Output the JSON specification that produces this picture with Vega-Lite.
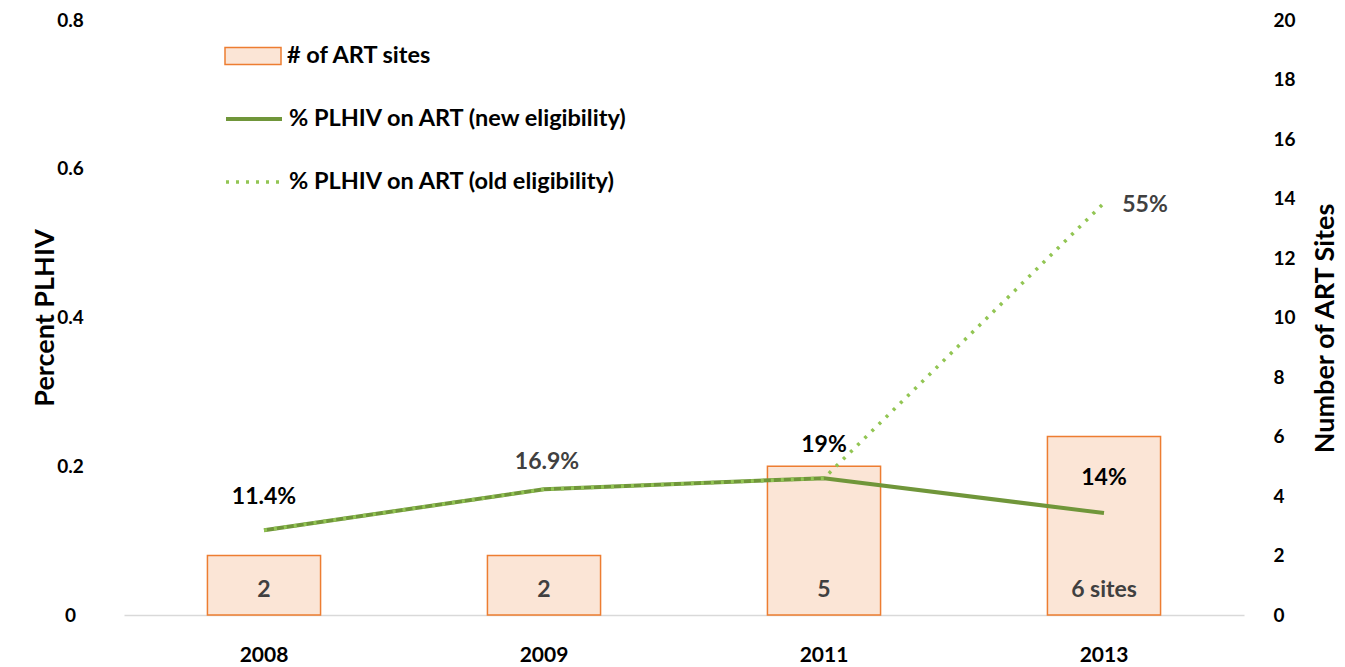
{
  "$schema": "https://vega.github.io/schema/vega-lite/v6.json",
  "autosize": {"type": "none"},
  "padding": {"left": 124, "top": 20, "right": 101, "bottom": 52},
  "width": 1120,
  "height": 595,
  "background": "white",
  "config": {
    "font": "Lato",
    "view": {"stroke": null},
    "axis": {"labelFont": "Lato", "titleFont": "Lato", "labelFontWeight": "bold", "titleFontWeight": "bold", "labelColor": "#000000", "titleColor": "#000000", "grid": false, "ticks": false, "labelOverlap": false},
    "legend": {"title": null, "orient": "none", "legendX": 100, "direction": "vertical", "symbolSize": 3136, "labelFont": "Lato", "labelFontSize": 23.5, "labelFontWeight": "bold", "labelColor": "#000000", "labelLimit": 600, "labelOffset": 5, "symbolOpacity": 1}
  },
  "datasets": {
    "sites": [
      {"year": "2008", "sites": 2, "label": "2", "series": "# of ART sites"},
      {"year": "2009", "sites": 2, "label": "2", "series": "# of ART sites"},
      {"year": "2011", "sites": 5, "label": "5", "series": "# of ART sites"},
      {"year": "2013", "sites": 6, "label": "6 sites", "series": "# of ART sites"}
    ],
    "newElig": [
      {"year": "2008", "pct": 0.114, "series": "% PLHIV on ART (new eligibility)"},
      {"year": "2009", "pct": 0.169, "series": "% PLHIV on ART (new eligibility)"},
      {"year": "2011", "pct": 0.184, "series": "% PLHIV on ART (new eligibility)"},
      {"year": "2013", "pct": 0.137, "series": "% PLHIV on ART (new eligibility)"}
    ],
    "oldElig": [
      {"year": "2008", "pct": 0.114, "series": "% PLHIV on ART (old eligibility)"},
      {"year": "2009", "pct": 0.169, "series": "% PLHIV on ART (old eligibility)"},
      {"year": "2011", "pct": 0.184, "series": "% PLHIV on ART (old eligibility)"},
      {"year": "2013", "pct": 0.554, "series": "% PLHIV on ART (old eligibility)"}
    ],
    "pctLabelsA": [
      {"year": "2008", "pct": 0.114, "label": "11.4%"},
      {"year": "2011", "pct": 0.184, "label": "19%"}
    ],
    "pctLabelsB": [
      {"year": "2009", "pct": 0.169, "label": "16.9%"}
    ],
    "lbl14": [{"year": "2013", "pct": 0.137, "label": "14%"}],
    "lbl55": [{"year": "2013", "pct": 0.554, "label": "55%"}]
  },
  "encoding": {
    "x": {
      "field": "year", "type": "ordinal",
      "scale": {"paddingInner": 0.596, "paddingOuter": 0.298},
      "axis": {"title": null, "labelAngle": 0, "labelFontSize": 21, "labelBaseline": "middle", "labelPadding": 40, "domainColor": "#d9d9d9", "domainWidth": 1.5}
    }
  },
  "layer": [
    {
      "data": {"name": "sites"},
      "mark": {"type": "bar", "stroke": "#ED7D31", "strokeWidth": 1.5},
      "encoding": {
        "y": {"field": "sites", "type": "quantitative", "scale": {"domain": [0, 20]},
          "axis": {"orient": "right", "title": "Number of ART Sites", "values": [0,2,4,6,8,10,12,14,16,18,20], "domain": false, "labelFontSize": 19, "labelAlign": "left", "labelPadding": 29, "titleFontSize": 27, "titleAngle": -90, "titleX": 81, "titleY": 308, "titleAlign": "center", "titleBaseline": "middle"}},
        "color": {
          "field": "series", "type": "nominal",
          "scale": {"range": ["#FBE5D6"]},
          "legend": {"legendY": 7, "symbolType": "M-1,-0.3H1V0.3H-1Z", "symbolFillColor": "#FBE5D6", "symbolStrokeColor": "#ED7D31", "symbolStrokeWidth": 1.5}
        }
      }
    },
    {
      "data": {"name": "sites"},
      "mark": {"type": "text", "fontSize": 23, "fontWeight": "bold", "color": "#404040", "baseline": "middle"},
      "encoding": {
        "y": {"datum": 0.84, "type": "quantitative", "scale": {"domain": [0, 20]}, "axis": null},
        "text": {"field": "label"}
      }
    },
    {
      "data": {"name": "newElig"},
      "mark": {"type": "line", "strokeWidth": 4},
      "encoding": {
        "y": {"field": "pct", "type": "quantitative", "scale": {"domain": [0, 0.8]},
          "axis": {"orient": "left", "title": "Percent PLHIV", "values": [0, 0.2, 0.4, 0.6, 0.8], "format": "~g", "domain": false, "labelFontSize": 19, "labelAlign": "center", "labelPadding": 54, "titleFontSize": 27, "titleX": -79, "titleBaseline": "middle"}},
        "color": {"field": "series", "type": "nominal",
          "scale": {"range": ["#70963A"]},
          "legend": {"legendY": 69, "symbolType": "stroke", "symbolStrokeWidth": 4}
        }
      }
    },
    {
      "data": {"name": "oldElig"},
      "mark": {"type": "line", "strokeWidth": 3.5, "strokeDash": [3, 7]},
      "encoding": {
        "y": {"field": "pct", "type": "quantitative", "scale": {"domain": [0, 0.8]}, "axis": null},
        "color": {"field": "series", "type": "nominal",
          "scale": {"range": ["#92C553"]},
          "legend": {"legendY": 132, "symbolType": "stroke", "symbolStrokeWidth": 3.5, "symbolDash": [3, 7]}
        }
      }
    },
    {
      "data": {"name": "pctLabelsA"},
      "mark": {"type": "text", "fontSize": 23, "fontWeight": "bold", "dy": -33, "baseline": "middle", "color": "#000000"},
      "encoding": {
        "y": {"field": "pct", "type": "quantitative", "scale": {"domain": [0, 0.8]}, "axis": null},
        "text": {"field": "label"}
      }
    },
    {
      "data": {"name": "pctLabelsB"},
      "mark": {"type": "text", "fontSize": 23, "fontWeight": "bold", "dy": -27, "dx": 3, "baseline": "middle", "color": "#404040"},
      "encoding": {
        "y": {"field": "pct", "type": "quantitative", "scale": {"domain": [0, 0.8]}, "axis": null},
        "text": {"field": "label"}
      }
    },
    {
      "data": {"name": "lbl14"},
      "mark": {"type": "text", "fontSize": 23, "fontWeight": "bold", "dy": -35, "baseline": "middle", "color": "#000000"},
      "encoding": {
        "y": {"field": "pct", "type": "quantitative", "scale": {"domain": [0, 0.8]}, "axis": null},
        "text": {"field": "label"}
      }
    },
    {
      "data": {"name": "lbl55"},
      "mark": {"type": "text", "fontSize": 23, "fontWeight": "bold", "dx": 41, "dy": 2, "baseline": "middle", "color": "#404040"},
      "encoding": {
        "y": {"field": "pct", "type": "quantitative", "scale": {"domain": [0, 0.8]}, "axis": null},
        "text": {"field": "label"}
      }
    }
  ],
  "resolve": {"scale": {"y": "independent", "color": "independent"}, "legend": {"color": "independent"}}
}
